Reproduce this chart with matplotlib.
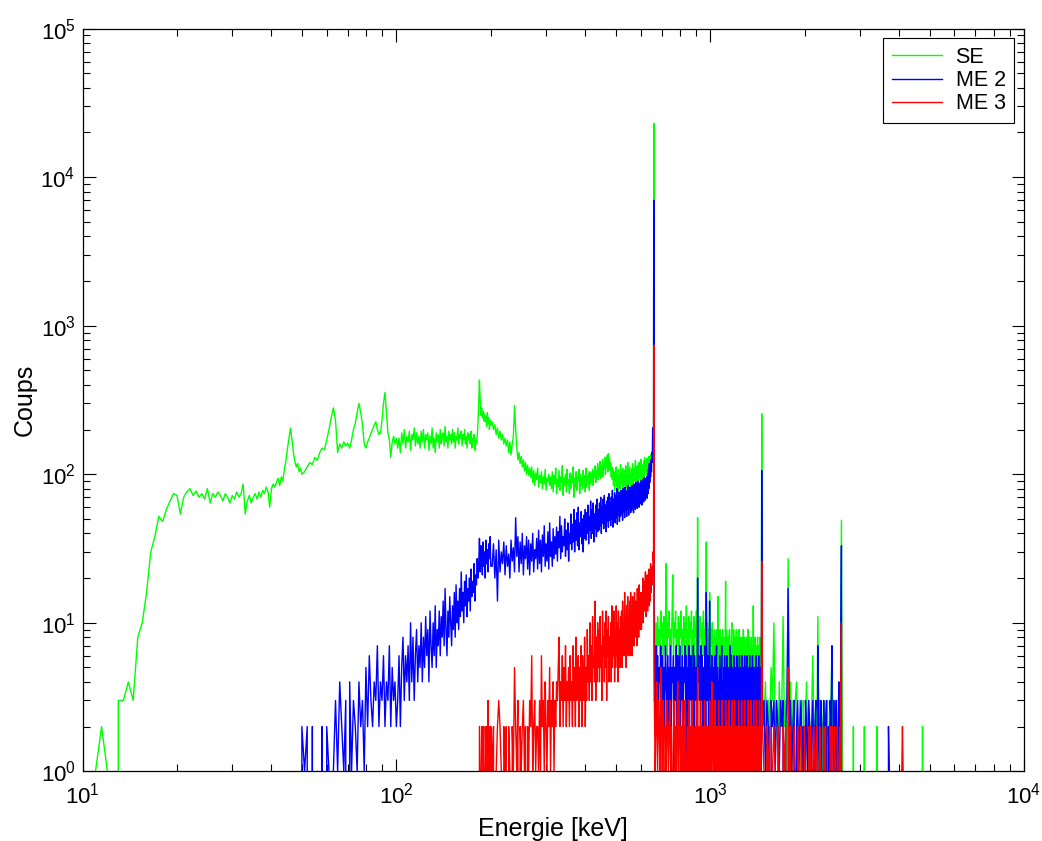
import numpy as np
import matplotlib
matplotlib.use("Agg")
import matplotlib.pyplot as plt
from matplotlib.ticker import LogLocator, FuncFormatter, NullFormatter

# ---------------------------------------------------------------- data
series_labels = ["SE", "ME 2", "ME 3"]
series_colors = ["#00ff00", "#0000ff", "#ff0000"]
x_label = "Energie [keV]"
y_label = "Coups"

# ---- SE (green) counts per channel block
se_10_20 = [0, 0, 1, 2, 1, 0, 3, 3, 4, 3, 8, 10, 16, 30, 38, 52, 48, 58, 66, 74, 72]
se_20_50 = [54, 70, 76, 80, 72, 77, 70, 74, 68, 80,
            64, 74, 70, 76, 72, 66, 74, 70, 64, 72,
            68, 76, 70, 74, 86, 54, 66, 72, 64, 70,
            74, 68, 76, 70, 78, 74, 82, 76, 60, 80,
            86, 82, 88, 94, 84, 96, 90, 110, 124, 150,
            175, 205, 170, 140, 122, 112, 118, 104, 110, 100]
se_51_100 = [104, 112, 120, 116, 130, 124, 140, 150, 146, 170,
             200, 240, 280, 230, 140, 160, 150, 165, 155, 162,
             150, 170, 200, 220, 260, 300, 260, 215, 160, 150,
             165, 175, 190, 200, 215, 225, 200, 185, 190, 230,
             300, 355, 260, 190, 170, 130, 165, 180, 160, 175]
se_101_200 = [150, 175, 140, 190, 160, 200, 150, 180, 165, 195,
              145, 185, 170, 205, 155, 190, 160, 180, 150, 195,
              165, 200, 150, 185, 170, 190, 145, 180, 160, 205,
              150, 175, 140, 190, 165, 185, 150, 200, 160, 175,
              190, 155, 210, 165, 180, 150, 195, 170, 185, 160,
              200, 165, 190, 150, 180, 170, 205, 160, 185, 175,
              195, 155, 185, 170, 200, 160, 180, 150, 190, 170,
              185, 160, 195, 150, 175, 165, 185, 145, 170, 160,
              180, 220, 300, 430, 320, 250, 280, 240, 265, 230,
              255, 225, 245, 210, 260, 220, 240, 200, 230, 215]
se_202_660 = [225, 200, 215, 185, 205, 175, 195, 170, 185, 160, 175, 155,
              170, 140, 165, 135, 160, 180,
              290, 200,
              150, 125, 140, 118, 132, 112, 125, 105, 120, 100, 115, 98, 110,
              95, 112, 88, 106, 84, 102, 92, 110, 82, 98,
              88, 104, 80, 96, 86, 108, 78, 94, 90, 100, 84, 96,
              80, 104, 76, 98, 86, 110, 74, 92, 82, 106,
              78, 96, 88, 114, 72, 94, 84, 100, 76, 108,
              86, 92, 74, 102, 80, 98, 88, 112, 70, 94,
              82, 104, 78, 96, 90, 108, 74, 100, 84, 94,
              80, 106, 86, 98, 76, 110, 82, 96, 88, 102, 78, 104,
              86, 100, 92, 108, 84, 104, 96, 114, 88, 106,
              100, 118, 92, 110, 98, 122, 94, 112, 104, 126,
              96, 116, 108, 130, 100, 120, 112, 134, 104, 138,
              118, 128, 106, 120, 96, 112, 92, 108,
              84, 104, 78, 100, 90, 112, 82, 96, 76, 108,
              88, 98, 80, 116, 86, 102, 92, 110, 78, 100,
              84, 106, 94, 114, 80, 98, 88, 120, 82, 104,
              96, 112, 86, 100, 78, 108, 92, 118, 84, 102,
              90, 110, 96, 124, 86, 104, 100, 114, 88, 108,
              94, 120, 98, 112, 90, 126, 102, 116, 94, 110,
              100, 122, 96, 130, 104, 118, 108, 124, 100, 128,
              112, 120, 106, 132, 114,
              118, 130, 112, 136, 124, 140, 132, 150, 145, 180]
se_664_1460 = [12, 6, 10, 5, 11, 7, 9, 6, 12, 8,
               10, 5, 11, 7, 9, 25, 6, 10, 8, 12,
               5, 9, 7, 11, 21, 6, 10, 8, 12, 5,
               9, 7, 11, 6, 10, 8, 12, 5, 9, 7,
               11, 6, 10, 8, 13, 5, 9, 7, 11, 6,
               10, 8, 12, 5, 9, 7, 11, 6, 10, 8,
               12, 5, 51, 7, 10, 6, 11, 8, 9, 5,
               10, 7, 12, 6, 9, 8, 11, 35, 5, 10,
               7, 9, 6, 16, 8, 5, 9, 7, 10, 6,
               8, 5, 9, 7, 6, 8, 4, 9, 6, 15,
               5, 8, 6, 9, 4, 7, 8, 5, 9, 6,
               7, 5, 8, 6, 19, 4, 9, 6, 7, 5,
               8, 6, 9, 4, 7, 5, 8, 10, 6, 7,
               4, 9, 5, 8, 6, 7, 5, 9, 4, 8,
               6, 7, 5, 9, 4, 8, 6, 7, 5, 8,
               4, 7, 6, 9, 5, 8, 4, 7, 6, 5,
               8, 4, 7, 5, 9, 6, 4, 8, 5, 7,
               6, 4, 8, 5, 7, 6, 4, 13, 5, 7,
               4, 6, 8, 5, 7, 4, 6, 5, 8, 4,
               7, 5, 6, 4, 8, 5, 6, 4, 7, 255]
se_1468_2700 = [3, 2, 4, 1, 3, 2, 5, 3, 10, 2,
                3, 1, 4, 2, 3, 11, 2, 3, 1, 27,
                2, 4, 1, 3, 2, 3, 4, 2, 1, 3,
                2, 0, 3, 1, 2, 4, 1, 3, 2, 1,
                3, 6, 2, 1, 3, 2, 11, 1, 3, 2,
                0, 2, 3, 1, 2, 0, 3, 1, 2, 1,
                3, 7, 2, 1, 0, 3, 2, 1, 0, 2,
                1, 3, 49, 2, 0, 1, 0, 0]
se_tail_e = [2760, 2830, 2860, 2890, 3080, 3100, 3120, 3380, 3400, 3420, 4730, 4750, 4770]
se_tail_c = [1, 0, 2, 0, 0, 2, 0, 0, 2, 0, 0, 2, 0]

# ---- ME 2 (blue)
me2_49_100 = [0, 2, 1, 2, 0, 2, 0, 1, 0, 2,
              0, 2, 1, 0, 1, 3, 1, 4, 2, 1,
              3, 0, 4, 1, 3, 2, 1, 4, 2, 3,
              1, 5, 2, 6, 3, 2, 4, 3, 7, 2,
              4, 3, 6, 2, 4, 3, 7, 2, 5, 3,
              4, 2]
me2_101_200 = [3, 6, 2, 5, 8, 3, 6, 4, 7, 3,
               10, 4, 8, 3, 6, 9, 4, 7, 5, 10,
               4, 8, 5, 11, 6, 9, 4, 12, 7, 5,
               10, 6, 13, 5, 9, 7, 12, 6, 11, 8,
               14, 7, 17, 9, 6, 12, 8, 15, 10, 7,
               13, 9, 16, 8, 18, 10, 14, 9, 17, 11,
               22, 12, 16, 10, 19, 13, 21, 11, 17, 14,
               20, 12, 23, 15, 19, 16, 25, 14, 21, 18,
               27, 20, 24, 37, 22, 33, 26, 21, 35, 24,
               30, 20, 36, 25, 31, 22, 34, 27, 38, 24]
me2_202_660 = [24, 34, 20, 31, 14, 36, 22, 30, 25, 35, 21, 33, 24, 29, 20, 36, 26, 32, 22, 51,
               28, 38, 22, 35, 25, 40, 21, 33, 27, 38, 23, 36, 21, 34, 26, 40, 22, 31, 27, 37,
               23, 42, 25, 36, 22, 39, 28, 45, 24, 34, 26, 41, 23, 47, 28, 35, 24, 43, 27, 38,
               29, 44, 26, 41, 32, 52, 27, 45, 30, 38, 33, 50, 28, 42, 31, 47, 26, 40, 34, 54,
               31, 46, 35, 58, 30, 49, 36, 55, 33, 60, 31, 47, 38, 56, 34, 50, 30, 53, 37, 58,
               36, 55, 40, 62, 34, 52, 42, 66, 37, 58, 40, 64, 35, 54, 43, 62, 38, 68, 41, 58,
               42, 64, 45, 70, 40, 60, 47, 68, 43, 72, 46, 62, 41, 66, 48, 70, 44, 74, 49, 64,
               45, 70, 50, 78, 44, 68, 52, 75, 47, 72, 51, 80, 46, 70, 53, 76, 48, 74, 52, 78,
               54, 74, 49, 80, 56, 72, 51, 82, 57, 76, 52, 78, 58, 84, 53, 75, 59, 82, 55, 80,
               57, 84, 60, 78, 55, 86, 62, 80, 58, 88, 61, 82, 59, 90, 64, 84, 60, 86, 63, 90,
               64, 86, 62, 92, 68, 88, 65, 95, 70, 90, 67, 94, 72, 96, 69, 100, 74, 108, 80, 118,
               88, 110, 96, 125, 104, 140, 120, 205, 150, 130]
me2_664_1460 = [5, 2, 7, 3, 6, 2, 5, 4, 7, 2,
                6, 3, 5, 2, 7, 4, 3, 6, 2, 5,
                3, 7, 2, 5, 4, 6, 1, 5, 3, 7,
                2, 6, 4, 3, 7, 2, 5, 3, 6, 2,
                5, 4, 7, 3, 6, 1, 5, 2, 7, 3,
                4, 6, 2, 5, 3, 7, 2, 6, 4, 3,
                5, 2, 20, 4, 6, 3, 5, 2, 7, 3,
                6, 2, 5, 4, 3, 7, 2, 16, 5, 3,
                6, 2, 4, 14, 3, 5, 2, 6, 3, 4,
                2, 5, 3, 6, 1, 4, 7, 2, 5, 3,
                4, 2, 6, 3, 5, 2, 7, 3, 4, 1,
                5, 3, 6, 2, 4, 5, 2, 6, 3, 4,
                2, 5, 3, 7, 2, 4, 6, 1, 5, 3,
                4, 2, 6, 3, 5, 0, 4, 2, 6, 3,
                5, 2, 4, 3, 6, 2, 5, 1, 4, 3,
                6, 2, 5, 3, 4, 2, 6, 3, 5, 1,
                4, 3, 6, 2, 5, 3, 4, 2, 6, 3,
                2, 5, 3, 4, 1, 6, 3, 5, 2, 4,
                3, 5, 2, 4, 6, 2, 3, 5, 1, 4,
                3, 6, 2, 4, 3, 5, 2, 4, 3, 106]
me2_1468_2700 = [2, 3, 1, 3, 2, 0, 3, 2, 3, 1,
                 3, 2, 1, 3, 2, 3, 0, 2, 3, 17,
                 2, 3, 1, 2, 3, 0, 2, 3, 1, 2,
                 3, 1, 2, 0, 3, 2, 1, 3, 2, 0,
                 2, 3, 1, 2, 3, 0, 7, 2, 1, 3,
                 2, 0, 3, 1, 2, 3, 0, 2, 1, 3,
                 2, 7, 0, 3, 1, 2, 3, 0, 2, 4,
                 1, 2, 33, 0, 1, 0, 0, 0]
me2_tail_e = [3680, 3700, 3720, 3740]
me2_tail_c = [0, 2, 1, 0]

# ---- ME 3 (red)
me3_184_200 = [2, 0, 1, 2, 0, 2, 1, 0, 2, 1, 2, 0, 3, 1, 2, 0, 2]
me3_202_660 = [1, 2, 0, 1, 2, 3, 2, 1, 0, 2, 1, 2, 0, 2, 1, 0, 2, 1, 5, 2,
               1, 3, 0, 2, 1, 2, 3, 1, 2, 0, 2, 1, 3, 2, 6, 1, 2, 3, 1, 2,
               2, 1, 3, 1, 6, 2, 3, 1, 4, 2, 1, 3, 2, 5, 1, 3, 2, 4, 1, 3,
               2, 4, 3, 5, 8, 2, 4, 3, 6, 2, 5, 3, 7, 2, 4, 3, 5, 2, 6, 3,
               4, 2, 7, 3, 5, 2, 8, 3, 4, 6, 2, 5, 3, 7, 2, 6, 4, 3, 8, 2,
               5, 3, 9, 4, 6, 3, 10, 4, 7, 3, 11, 5, 6, 4, 14, 3, 8, 4, 10, 5,
               9, 4, 11, 5, 7, 3, 12, 6, 8, 4, 10, 5, 12, 3, 9, 6, 11, 4, 8, 5,
               10, 4, 13, 5, 8, 6, 12, 4, 9, 5, 13, 6, 10, 4, 12, 7, 9, 5, 11, 6,
               12, 5, 14, 7, 10, 6, 16, 8, 11, 5, 13, 7, 15, 6, 10, 8, 14, 6, 16, 7,
               13, 6, 15, 9, 12, 7, 16, 8, 14, 10, 12, 7, 17, 9, 15, 8, 18, 10, 14, 9,
               16, 9, 15, 11, 20, 10, 17, 12, 19, 13, 22, 11, 18, 14, 21, 12, 19, 15, 23, 13,
               18, 14, 25, 16, 22, 18, 24, 20, 30, 26]
me3_664_1460 = [3, 1, 2, 4, 1, 3, 2, 1, 5, 2,
                1, 3, 2, 0, 2, 1, 3, 2, 1, 2,
                3, 1, 2, 0, 1, 2, 3, 1, 2, 1,
                2, 4, 1, 3, 2, 1, 2, 0, 3, 1,
                2, 1, 3, 2, 0, 1, 2, 1, 3, 1,
                2, 0, 1, 3, 1, 2, 1, 0, 2, 1,
                3, 1, 5, 1, 0, 2, 1, 3, 1, 2,
                1, 0, 2, 1, 3, 1, 2, 0, 1, 2,
                1, 2, 0, 3, 1, 2, 1, 4, 2, 1,
                0, 2, 1, 3, 1, 0, 2, 1, 2, 1,
                3, 1, 2, 0, 1, 2, 1, 3, 1, 2,
                1, 0, 2, 1, 3, 2, 1, 0, 2, 1,
                2, 3, 1, 0, 2, 1, 2, 1, 3, 0,
                1, 2, 1, 3, 0, 2, 1, 2, 1, 0,
                2, 1, 3, 1, 2, 0, 1, 2, 1, 3,
                1, 0, 2, 1, 2, 1, 3, 0, 1, 2,
                1, 2, 0, 1, 3, 1, 2, 1, 0, 2,
                1, 3, 1, 2, 0, 1, 2, 1, 3, 1,
                0, 2, 1, 2, 1, 3, 0, 1, 2, 1,
                2, 1, 0, 3, 1, 2, 1, 0, 2, 26]
me3_1468_2700 = [2, 1, 0, 2, 1, 2, 0, 1, 2, 1,
                 0, 2, 1, 1, 0, 2, 1, 2, 0, 5,
                 1, 2, 0, 1, 2, 1, 0, 2, 1, 0,
                 2, 1, 0, 2, 1, 1, 0, 2, 1, 2,
                 0, 1, 2, 1, 0, 2, 1, 0, 2, 1,
                 1, 0, 2, 1, 2, 0, 1, 1, 0, 2,
                 1, 2, 0, 1, 2, 1, 0, 2, 1, 0,
                 2, 1, 10, 0, 0, 0, 0, 0]
me3_tail_e = [4080, 4100, 4120, 4140]
me3_tail_c = [1, 2, 1, 0]

# ---- 662 keV photopeak channels
peak_e = [661, 662, 663]
se_peak = [17000, 23000, 25]
me2_peak = [5500, 7000, 10]
me3_peak = [400, 740, 3]


def block(start, step, counts):
    e = start + step * np.arange(len(counts))
    return list(e), list(counts)


def assemble(parts):
    e_all, c_all = [], []
    for e, c in parts:
        e_all += list(e)
        c_all += list(c)
    return np.array(e_all, dtype=float), np.array(c_all, dtype=float)


se = assemble([block(10.0, 0.5, se_10_20), block(20.5, 0.5, se_20_50),
               block(51, 1, se_51_100), block(101, 1, se_101_200),
               block(202, 2, se_202_660), (peak_e, se_peak),
               block(664, 4, se_664_1460), block(1468, 16, se_1468_2700),
               (se_tail_e, se_tail_c)])
me2 = assemble([block(49, 1, me2_49_100), block(101, 1, me2_101_200),
                block(202, 2, me2_202_660), (peak_e, me2_peak),
                block(664, 4, me2_664_1460), block(1468, 16, me2_1468_2700),
                (me2_tail_e, me2_tail_c)])
me3 = assemble([block(184, 1, me3_184_200), block(202, 2, me3_202_660),
                (peak_e, me3_peak), block(664, 4, me3_664_1460),
                block(1468, 16, me3_1468_2700), (me3_tail_e, me3_tail_c)])

# ---------------------------------------------------------------- style
plt.rcParams["font.family"] = ["Liberation Sans", "DejaVu Sans"]
plt.rcParams["mathtext.fontset"] = "custom"
plt.rcParams["mathtext.rm"] = "Liberation Sans"
plt.rcParams["mathtext.it"] = "Liberation Sans:italic"
plt.rcParams["mathtext.default"] = "regular"
plt.rcParams["path.simplify"] = False

fig = plt.figure(figsize=(10.42, 8.41), dpi=100, facecolor="white")
ax = fig.add_axes([0.0792, 0.0829, 0.9035, 0.8830])

for (e, c), lab, col in zip([se, me2, me3], series_labels, series_colors):
    ax.plot(e, c, color=col, lw=1.0, label=lab)

ax.set_xscale("log", nonpositive="clip")
ax.set_yscale("log", nonpositive="clip")
ax.set_xlim(10, 1e4)
ax.set_ylim(1, 1e5)

fmt = FuncFormatter(lambda v, p: r"$10^{%d}$" % int(round(np.log10(v))))
for axis in (ax.xaxis, ax.yaxis):
    axis.set_major_locator(LogLocator(base=10, numticks=10))
    axis.set_minor_locator(LogLocator(base=10, subs=np.arange(2, 10), numticks=20))
    axis.set_major_formatter(fmt)
    axis.set_minor_formatter(NullFormatter())

ax.tick_params(which="both", direction="in", top=True, right=True, width=0.8,
               color="black")
ax.tick_params(which="major", length=9, labelsize=16)
ax.tick_params(which="minor", length=5)
ax.tick_params(axis="x", which="major", pad=8)
ax.tick_params(axis="y", which="major", pad=5)
for sp in ax.spines.values():
    sp.set_linewidth(0.9)
    sp.set_color("black")

ax.set_xlabel(x_label, fontsize=18, labelpad=6)
ax.set_ylabel(y_label, fontsize=18, labelpad=3)

leg = ax.legend(loc="upper right", fontsize=15.5, fancybox=False, framealpha=1,
                edgecolor="black", borderaxespad=0.45, handlelength=2.3,
                handletextpad=0.65, labelspacing=0.1, borderpad=0.4)
leg.get_frame().set_linewidth(0.8)
for ln in leg.get_lines():
    ln.set_linewidth(1.0)

fig.savefig("out.png", dpi=100, facecolor="white")
